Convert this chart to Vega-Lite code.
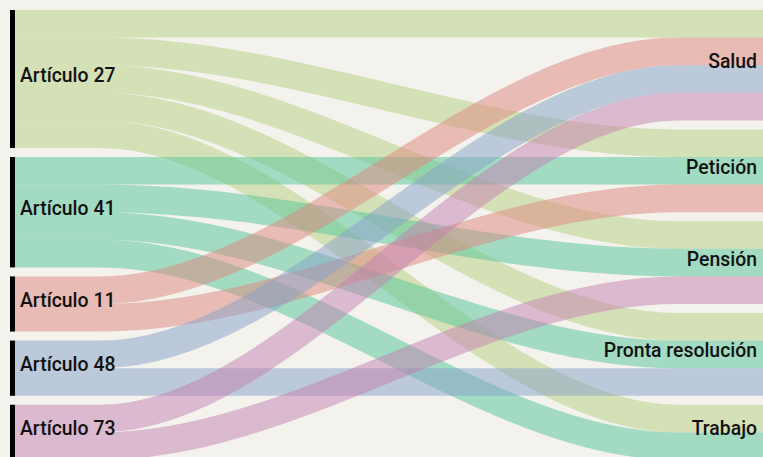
{
  "$schema": "https://vega.github.io/schema/vega-lite/v6.json",
  "width": 763,
  "height": 457,
  "autosize": {"type": "none"},
  "padding": 0,
  "background": "#f3f2ec",
  "config": {"view": {"stroke": null}},
  "datasets": {
    "links": [
      {"source": "Artículo 27", "target": "Salud", "value": 1, "y_source": 0.5, "y_target": 0.5},
      {"source": "Artículo 27", "target": "Petición", "value": 1, "y_source": 1.5, "y_target": 4.826},
      {"source": "Artículo 27", "target": "Pensión", "value": 1, "y_source": 2.5, "y_target": 8.152},
      {"source": "Artículo 27", "target": "Pronta resolución", "value": 1, "y_source": 3.5, "y_target": 11.478},
      {"source": "Artículo 27", "target": "Trabajo", "value": 1, "y_source": 4.5, "y_target": 14.804},
      {"source": "Artículo 41", "target": "Petición", "value": 1, "y_source": 5.826, "y_target": 5.826},
      {"source": "Artículo 41", "target": "Pensión", "value": 1, "y_source": 6.826, "y_target": 9.152},
      {"source": "Artículo 41", "target": "Pronta resolución", "value": 1, "y_source": 7.826, "y_target": 12.478},
      {"source": "Artículo 41", "target": "Trabajo", "value": 1, "y_source": 8.826, "y_target": 15.804},
      {"source": "Artículo 11", "target": "Salud", "value": 1, "y_source": 10.152, "y_target": 1.5},
      {"source": "Artículo 11", "target": "Petición", "value": 1, "y_source": 11.152, "y_target": 6.826},
      {"source": "Artículo 48", "target": "Salud", "value": 1, "y_source": 12.478, "y_target": 2.5},
      {"source": "Artículo 48", "target": "Pronta resolución", "value": 1, "y_source": 13.478, "y_target": 13.478},
      {"source": "Artículo 73", "target": "Salud", "value": 1, "y_source": 14.804, "y_target": 3.5},
      {"source": "Artículo 73", "target": "Pensión", "value": 1, "y_source": 15.804, "y_target": 10.152}
    ],
    "nodes": [
      {"name": "Artículo 27", "side": "left", "y0": 0, "y1": 5},
      {"name": "Artículo 41", "side": "left", "y0": 5.326, "y1": 9.326},
      {"name": "Artículo 11", "side": "left", "y0": 9.652, "y1": 11.652},
      {"name": "Artículo 48", "side": "left", "y0": 11.978, "y1": 13.978},
      {"name": "Artículo 73", "side": "left", "y0": 14.304, "y1": 16.304},
      {"name": "Salud", "side": "right", "y0": 0, "y1": 4},
      {"name": "Petición", "side": "right", "y0": 4.326, "y1": 7.326},
      {"name": "Pensión", "side": "right", "y0": 7.652, "y1": 10.652},
      {"name": "Pronta resolución", "side": "right", "y0": 10.978, "y1": 13.978},
      {"name": "Trabajo", "side": "right", "y0": 14.304, "y1": 16.304}
    ]
  },
  "layer": [
    {
      "data": {"name": "links"},
      "transform": [
        {"fold": ["y_source", "y_source", "y_target", "y_target"], "as": ["end", "yv"]},
        {"window": [{"op": "row_number", "as": "step"}], "groupby": ["source", "target"]}
      ],
      "mark": {"type": "line", "interpolate": "monotone", "opacity": 0.5, "strokeCap": "butt"},
      "encoding": {
        "x": {"field": "step", "type": "quantitative", "scale": {"domain": [1, 2, 3, 4], "range": [15, 101, 677, 763], "nice": false, "zero": false}, "axis": null},
        "y": {"field": "yv", "type": "quantitative", "scale": {"domain": [-0.3623, 16.196], "reverse": true, "nice": false, "zero": false}, "axis": null},
        "color": {"field": "source", "type": "nominal", "scale": {"domain": ["Artículo 27", "Artículo 41", "Artículo 11", "Artículo 48", "Artículo 73"], "range": ["#b5ce80", "#53c498", "#dd867e", "#85a0c8", "#c380b2"]}, "legend": null},
        "size": {"field": "value", "type": "quantitative", "scale": {"domain": [0, 1], "range": [0, 27.6]}, "legend": null},
        "detail": {"field": "target"},
        "order": {"field": "step", "type": "quantitative"}
      }
    },
    {
      "data": {"name": "nodes"},
      "transform": [{"filter": "datum.side === 'left'"}],
      "mark": {"type": "rule", "strokeWidth": 5, "color": "#000000", "xOffset": -2.5},
      "encoding": {
        "x": {"datum": 1, "type": "quantitative", "scale": {"domain": [1, 2, 3, 4], "range": [15, 101, 677, 763], "nice": false, "zero": false}, "axis": null},
        "y": {"field": "y0", "type": "quantitative", "scale": {"domain": [-0.3623, 16.196], "reverse": true, "nice": false, "zero": false}, "axis": null},
        "y2": {"field": "y1"}
      }
    },
    {
      "data": {"name": "nodes"},
      "transform": [
        {"fold": ["y0", "y1"], "as": ["edge", "yv"]},
        {"aggregate": [{"op": "mean", "field": "yv", "as": "mid"}], "groupby": ["name", "side"]},
        {"filter": "datum.side === 'left'"}
      ],
      "mark": {"type": "text", "align": "left", "baseline": "alphabetic", "dx": 5, "dy": 3, "font": "Roboto", "fontSize": 19.4, "fontWeight": 500, "color": "#111111"},
      "encoding": {
        "x": {"datum": 1, "type": "quantitative", "scale": {"domain": [1, 2, 3, 4], "range": [15, 101, 677, 763], "nice": false, "zero": false}, "axis": null},
        "y": {"field": "mid", "type": "quantitative", "scale": {"domain": [-0.3623, 16.196], "reverse": true, "nice": false, "zero": false}, "axis": null},
        "text": {"field": "name"}
      }
    },
    {
      "data": {"name": "nodes"},
      "transform": [
        {"fold": ["y0", "y1"], "as": ["edge", "yv"]},
        {"aggregate": [{"op": "mean", "field": "yv", "as": "mid"}], "groupby": ["name", "side"]},
        {"filter": "datum.side === 'right'"}
      ],
      "mark": {"type": "text", "align": "right", "baseline": "alphabetic", "dx": -6, "dy": 3, "font": "Roboto", "fontSize": 19.4, "fontWeight": 500, "color": "#111111"},
      "encoding": {
        "x": {"datum": 4, "type": "quantitative", "scale": {"domain": [1, 2, 3, 4], "range": [15, 101, 677, 763], "nice": false, "zero": false}, "axis": null},
        "y": {"field": "mid", "type": "quantitative", "scale": {"domain": [-0.3623, 16.196], "reverse": true, "nice": false, "zero": false}, "axis": null},
        "text": {"field": "name"}
      }
    }
  ]
}
